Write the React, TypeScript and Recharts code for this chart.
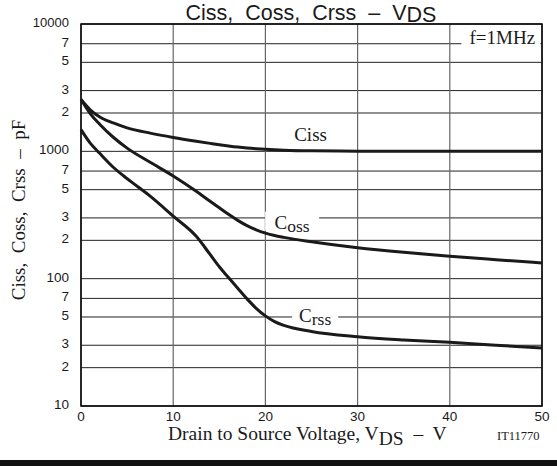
import React from 'react';
import {CartesianGrid, Label, Line, LineChart, ReferenceArea, ReferenceDot, XAxis, YAxis} from 'recharts';

// Drain-source voltage (V) and capacitances (pF) at f = 1 MHz
const volts = [0, 1, 2, 3.5, 5, 7.5, 10, 12.5, 14, 15, 16, 17, 18, 19, 20, 21, 22, 25, 30, 35, 40, 45, 50];
const ciss = [2550, 2120, 1870, 1670, 1530, 1390, 1285, 1200, 1155, 1127, 1102, 1080, 1062, 1048, 1037, 1028, 1021, 1009, 1003, 1001, 1000, 1000, 1000];
const coss = [2550, 1980, 1640, 1290, 1060, 820, 640, 485, 405, 360, 320, 287, 261, 242, 228, 218, 211, 195, 175, 161, 150, 141, 133];
const crss = [1480, 1160, 970, 750, 610, 445, 310, 215, 155, 124, 102, 84, 69.5, 58.5, 51, 46, 43, 38.5, 35, 33, 31.6, 30, 28.6];

const xTicks = [0, 10, 20, 30, 40, 50];
const yTicks = [10, 20, 30, 50, 70, 100, 200, 300, 500, 700, 1000, 2000, 3000, 5000, 7000, 10000];

const data = volts.map((v, i) => ({v, ciss: ciss[i], coss: coss[i], crss: crss[i]}));

const SANS = '"Liberation Sans", Arial, sans-serif';
const SERIF = '"Liberation Serif", "Times New Roman", serif';
const INK = '#1a1a1a';

// decade values keep the full number, the rest show only the leading digit
const yTickText = (v: number) => (Math.log10(v) % 1 === 0 ? String(v) : String(v).charAt(0));

const YTick = ({x, y, payload}: any) => (
    <text x={x} y={y + 3} textAnchor="end" fontFamily={SANS} fontSize={payload.value === 10000 ? 13 : 13.5} fill={INK}>
        {yTickText(payload.value)}
    </text>
);

const XTick = ({x, y, payload}: any) => (
    <text x={x} y={y + 15} textAnchor="middle" fontFamily={SANS} fontSize={13.5} fill={INK}>
        {payload.value}
    </text>
);

// curve name placed on the plot, optional white patch to break the grid lines
const CurveTag = ({cx, cy, main, tail, box}: any) => (
    <g>
        {box && <rect x={cx + box[0]} y={cy + box[1]} width={box[2]} height={box[3]} fill="#fff"/>}
        <text x={cx} y={cy} textAnchor="middle" fontFamily={SERIF} fontSize={19} fill={INK} style={{whiteSpace: 'pre'}}>
            {main}
            {tail && <tspan fontSize={17.5} dy={3}>{tail}</tspan>}
        </text>
    </g>
);

const XTitle = ({viewBox}: any) => {
    const left = viewBox.x;
    return (
        <g>
            <text x={left + 87} y={440} fontFamily={SERIF} fontSize={19.5} fill={INK} style={{whiteSpace: 'pre'}}>
                Drain to Source Voltage, V<tspan dy={5}>DS</tspan><tspan dy={-5}>  –  V</tspan>
            </text>
            <text x={left + 416} y={440} fontFamily={SERIF} fontSize={12.5} fill={INK}>IT11770</text>
        </g>
    );
};

const YTitle = () => (
    <text x={18} y={210} transform="rotate(-90, 18, 210)" textAnchor="middle" dominantBaseline="central"
          fontFamily={SERIF} fontSize={19} fill={INK} style={{whiteSpace: 'pre'}}>
        Ciss,  Coss,  Crss  –  pF
    </text>
);

export default function App() {
    return (
        <div style={{position: 'absolute', left: 0, top: 0, width: 557, height: 466, background: '#fff'}}>
            <LineChart width={557} height={466} data={data} margin={{top: 24, right: 15, bottom: 0, left: 0}}>
                <CartesianGrid vertical={false} stroke="#222" strokeWidth={1}/>
                <CartesianGrid horizontal={false} stroke="#666" strokeWidth={1.2}/>
                <XAxis dataKey="v" type="number" domain={[0, 50]} ticks={xTicks} interval={0} height={60}
                       axisLine={false} tickLine={false} tickSize={0} tickMargin={0} tick={<XTick/>}>
                    <Label content={<XTitle/>}/>
                </XAxis>
                <YAxis type="number" scale="log" domain={[10, 10000]} ticks={yTicks} interval={0} width={81} allowDataOverflow
                       axisLine={false} tickLine={false} tickSize={0} tickMargin={12} tick={<YTick/>}>
                    <Label content={<YTitle/>}/>
                </YAxis>
                <ReferenceArea x1={0} x2={50} y1={10} y2={10000} fill="none" stroke="#000" strokeWidth={1.5}/>
                <Line dataKey="ciss" type="monotone" stroke={INK} strokeWidth={3} dot={false} isAnimationActive={false}/>
                <Line dataKey="coss" type="monotone" stroke={INK} strokeWidth={3} dot={false} isAnimationActive={false}/>
                <Line dataKey="crss" type="monotone" stroke={INK} strokeWidth={3} dot={false} isAnimationActive={false}/>
                <ReferenceDot x={24.9} y={1200} r={0} shape={(p: any) => <CurveTag {...p} main="Ciss"/>}/>
                <ReferenceDot x={22.9} y={247} r={0}
                              shape={(p: any) => <CurveTag {...p} main="C" tail="oss" box={[-27, -17, 54, 19]}/>}/>
                <ReferenceDot x={25.4} y={46} r={0}
                              shape={(p: any) => <CurveTag {...p} main="C" tail="rss" box={[-23, -15, 46, 19]}/>}/>
                <ReferenceDot x={45.7} y={7000} r={0}
                              shape={(p: any) => <CurveTag {...p} main="f=1MHz" box={[-41, -17, 79, 21]}/>}/>
            </LineChart>
            <svg width={557} height={30} style={{position: 'absolute', left: 0, top: 0, pointerEvents: 'none'}}>
                <text x={311} y={19.5} textAnchor="middle" fontFamily={SANS} fontSize={21.5} fill={INK} style={{whiteSpace: 'pre'}}>
                    Ciss,  Coss,  Crss  –  V<tspan dy={2.5}>DS</tspan>
                </text>
            </svg>
            <div style={{position: 'absolute', left: 0, top: 460, width: 557, height: 6, background: '#111'}}/>
        </div>
    );
}
